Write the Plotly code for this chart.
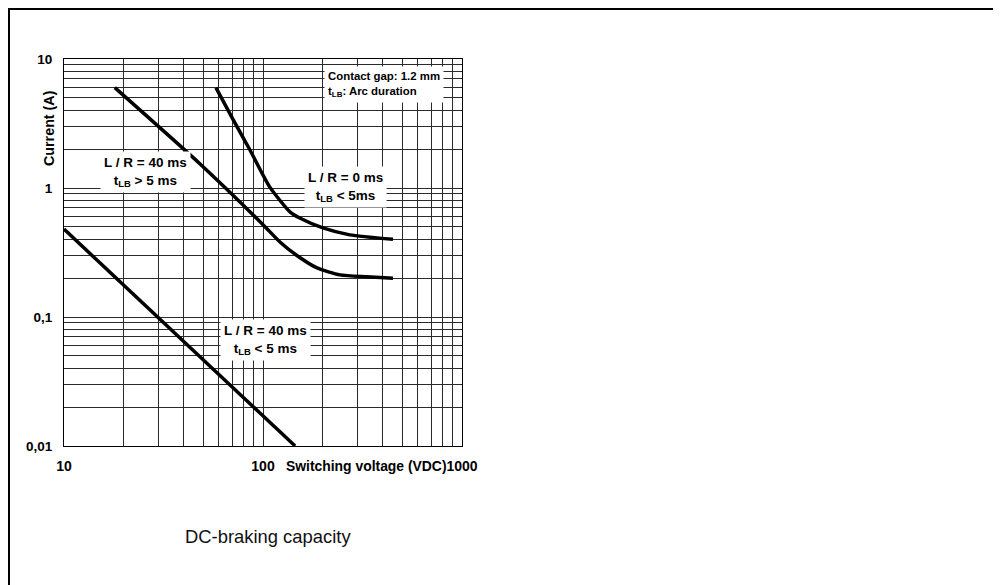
import math
import plotly.graph_objects as go

# ---- data ----
# L/R = 40 ms, t_LB > 5 ms
v_lr40_long = [18, 48, 100, 122, 148, 187, 244, 333, 450]
i_lr40_long = [6.0, 1.55, 0.52, 0.38, 0.30, 0.24, 0.212, 0.205, 0.20]
# L/R = 0 ms, t_LB < 5 ms
v_lr0 = [58, 70, 86, 108, 137, 153, 200, 273, 450]
i_lr0 = [6.0, 3.5, 1.97, 1.02, 0.65, 0.585, 0.49, 0.433, 0.40]
# L/R = 40 ms, t_LB < 5 ms
v_lr40_short = [10, 145]
i_lr40_short = [0.48, 0.01]

x_grid = [10, 20, 30, 40, 50, 60, 70, 80, 90,
          100, 200, 300, 400, 500, 600, 700, 800, 900, 1000]
x_labels = ["10", "", "", "", "", "", "", "", "",
            "100", "", "", "", "", "", "", "", "", "1000"]
y_grid = [0.01, 0.02, 0.03, 0.04, 0.05, 0.06, 0.07, 0.08, 0.09,
          0.1, 0.2, 0.3, 0.4, 0.5, 0.6, 0.7, 0.8, 0.9,
          1, 2, 3, 4, 5, 6, 7, 8, 9, 10]
y_labels = ["0,01", "", "", "", "", "", "", "", "",
            "0,1", "", "", "", "", "", "", "", "",
            "1", "", "", "", "", "", "", "", "", "10"]

FONT = "Liberation Sans, Arial, sans-serif"
BOLD = dict(family=FONT, color="black", weight="bold")

fig = go.Figure()
line_style = dict(color="black", width=3.5)
fig.add_trace(go.Scatter(x=v_lr40_long, y=i_lr40_long, mode="lines",
                         line=dict(**line_style, shape="spline", smoothing=0.6),
                         hoverinfo="skip"))
fig.add_trace(go.Scatter(x=v_lr0, y=i_lr0, mode="lines",
                         line=dict(**line_style, shape="spline", smoothing=0.6),
                         hoverinfo="skip"))
fig.add_trace(go.Scatter(x=v_lr40_short, y=i_lr40_short, mode="lines",
                         line=line_style, hoverinfo="skip"))

axis_common = dict(type="log", showgrid=True, gridcolor="#2a2a2a", gridwidth=1,
                   showline=True, linecolor="black", linewidth=1, mirror=True,
                   ticks="", zeroline=False, fixedrange=True)

fig.update_xaxes(**axis_common, range=[1, 3], tickmode="array",
                 tickvals=x_grid, ticktext=x_labels,
                 tickfont=dict(**BOLD, size=14), ticklabelstandoff=7)
fig.update_yaxes(**axis_common, range=[-2, 1], tickmode="array",
                 tickvals=y_grid, ticktext=y_labels,
                 tickfont=dict(**BOLD, size=13.5), ticklabelstandoff=8)

def box(text, x, y, size, xanchor="center", align="center"):
    fig.add_annotation(x=x, y=y, xref="x", yref="y", text=text, showarrow=False,
                       font=dict(**BOLD, size=size), bgcolor="white",
                       borderpad=3, xanchor=xanchor, yanchor="middle", align=align)

box("L / R = 40 ms<br>t<sub>LB</sub> &gt; 5 ms", math.log10(25.8), math.log10(1.33), 13.5)
box("L / R = 0 ms<br>t<sub>LB</sub> &lt; 5ms", math.log10(261), math.log10(1.02), 13.5)
box("L / R = 40 ms<br>t<sub>LB</sub> &lt; 5 ms", math.log10(103.5), math.log10(0.066), 13.5)
box("Contact gap: 1.2 mm<br>t<sub>LB</sub>: Arc duration", math.log10(202), math.log10(6.4), 11.4,
    xanchor="left", align="left")

# axis titles
fig.add_annotation(x=0.761, y=-0.0517, xref="paper", yref="paper",
                   text="Switching voltage (VDC)", showarrow=False,
                   font=dict(**BOLD, size=13.9), xanchor="center", yanchor="middle")
fig.add_annotation(x=-0.0377, y=0.8217, xref="paper", yref="paper",
                   text="Current (A)", showarrow=False, textangle=-90,
                   font=dict(**BOLD, size=14.3), xanchor="center", yanchor="middle")
# caption
fig.add_annotation(x=(175 - 56) / 398, y=-0.2326, xref="paper", yref="paper",
                   text="DC-braking capacity", showarrow=False,
                   font=dict(family=FONT, size=18.4, color="#111"),
                   xanchor="left", yanchor="middle")

# outer frame
fig.add_shape(type="rect", xref="paper", yref="paper",
              x0=-0.1382, x1=2.3367, y0=-0.40, y1=1.1292,
              line=dict(color="black", width=2), fillcolor="rgba(0,0,0,0)")

fig.update_layout(width=993, height=577, showlegend=False,
                  margin=dict(l=56, r=539, t=51, b=139),
                  paper_bgcolor="white", plot_bgcolor="white")

fig.write_html("out.html")
